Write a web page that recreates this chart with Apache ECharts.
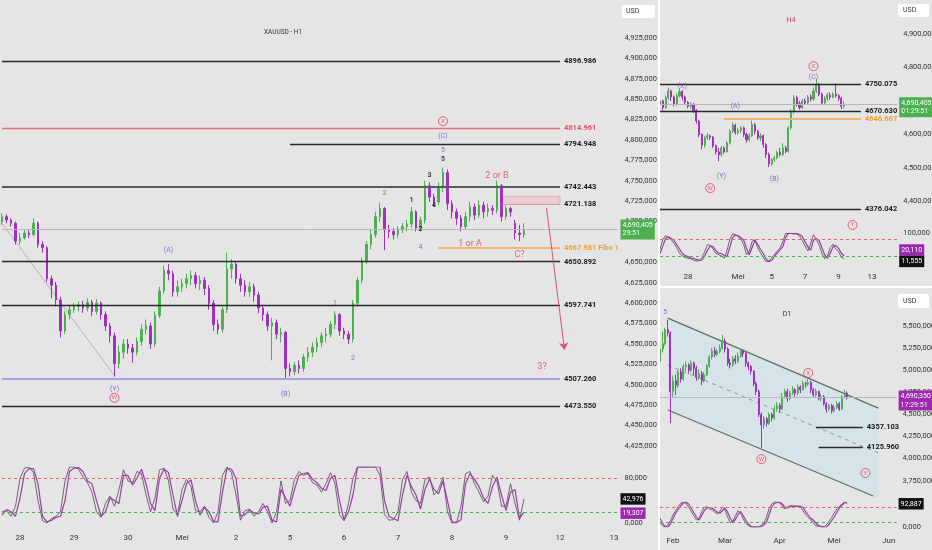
<!DOCTYPE html>
<html><head><meta charset="utf-8">
<script src="https://cdn.jsdelivr.net/npm/echarts@6/dist/echarts.min.js"></script>
<style>html,body{margin:0;padding:0;background:#e5e5e5;}#c{width:932px;height:550px;}</style>
</head><body><div id="c"></div>
<script>
// ---------- H1 (main) ----------
const h1Days = ['28','29','30','Mei','2','5','6','7','8','9','12','13'];
const h1Open = [4700,4706,4702,4698,4676,4680,4686,4684,4698,4672,
4668,4630,4622,4604,4566,4586,4592,4596,4598,4594,
4601,4590,4600,4586,4572,4560,4526,4540,4550,4545,
4540,4553,4568,4572,4550,4585,4615,4640,4636,4614,
4620,4624,4630,4634,4624,4628,4618,4600,4574,4568,
4592,4642,4648,4630,4622,4614,4620,4610,4594,4586,
4572,4576,4562,4564,4520,4516,4524,4520,4534,4540,
4546,4552,4560,4562,4574,4586,4566,4562,4556,4600,
4628,4652,4672,4684,4706,4716,4690,4688,4684,4690,
4694,4697,4712,4692,4702,4744,4730,4724,4742,4760,
4722,4712,4704,4694,4706,4718,4708,4720,4712,4716,
4714,4744,4706,4716,4698,4686,4684];
const h1Close = [4706,4702,4698,4676,4680,4686,4684,4698,4672,4668,
4630,4622,4604,4566,4586,4592,4596,4598,4594,4601,
4590,4600,4586,4572,4560,4526,4540,4550,4545,4540,
4553,4568,4572,4550,4585,4615,4640,4636,4614,4620,
4624,4630,4634,4624,4628,4618,4600,4574,4568,4592,
4642,4648,4630,4622,4614,4620,4610,4594,4586,4572,
4576,4562,4564,4520,4516,4524,4520,4534,4540,4546,
4552,4560,4562,4574,4586,4566,4562,4556,4600,4628,
4652,4672,4684,4706,4716,4690,4688,4684,4690,4694,
4697,4712,4692,4702,4744,4730,4724,4742,4760,4722,
4712,4704,4694,4706,4718,4708,4720,4712,4716,4714,
4744,4706,4716,4712,4686,4684,4690.405];
const h1Low = [4696,4698,4694,4672,4672,4678,4680,4682,4668,4662,
4626,4606,4596,4558,4562,4580,4588,4590,4588,4590,
4584,4586,4580,4566,4552,4510,4520,4532,4538,4527,
4536,4548,4562,4544,4546,4582,4612,4628,4608,4608,
4614,4618,4622,4618,4616,4610,4592,4566,4562,4564,
4588,4630,4624,4614,4608,4608,4602,4588,4578,4566,
4530,4556,4552,4506,4510,4512,4514,4516,4528,4534,
4540,4546,4552,4558,4568,4560,4556,4550,4552,4596,
4624,4648,4666,4680,4700,4665,4680,4678,4680,4686,
4688,4692,4688,4688,4698,4724,4718,4720,4736,4714,
4704,4696,4688,4690,4700,4702,4704,4704,4706,4708,
4710,4700,4702,4706,4678,4676,4680];
const h1High = [4710,4709,4704,4700,4686,4690,4690,4704,4700,4676,
4670,4634,4626,4608,4590,4598,4600,4602,4603,4606,
4604,4605,4602,4590,4576,4564,4548,4556,4556,4550,
4558,4574,4580,4576,4590,4620,4646,4648,4640,4628,
4630,4636,4640,4638,4634,4632,4622,4604,4580,4596,
4662,4654,4650,4636,4628,4626,4624,4614,4598,4590,
4582,4580,4570,4566,4526,4528,4530,4538,4546,4552,
4558,4564,4570,4578,4590,4588,4570,4566,4604,4632,
4656,4676,4690,4712,4723,4718,4696,4692,4694,4698,
4702,4718,4714,4706,4750,4748,4734,4748,4766,4764,
4726,4716,4708,4712,4724,4722,4726,4724,4722,4720,
4750,4746,4720,4718,4702,4696,4698];
const h1StochK = [20,22,12,30,80,98,100,90,40,4, 0,8,12,20,75,100,100,96,82,72,
55,20,10,35,48,30,60,95,75,72, 92,88,50,20,45,95,98,75,25,15,
60,78,65,22,20,30,10,0,20,85, 100,90,50,5,22,25,12,20,35,20,
0,20,75,35,40,78,92,85,88,72, 68,55,70,90,70,15,4,35,80,100,
100,100,100,100,85,15,5,6,20,78, 92,55,40,35,78,82,50,60,82,20,
0,0,30,88,92,70,55,38,48,85, 75,30,30,70,35,5,42.976];
const h1StochD = [14,24,20,12,45,88,97,97,70,12, 2,5,10,12,40,92,98,99,92,75,
70,40,12,20,45,40,35,85,85,68, 80,96,70,35,22,80,96,90,50,12,
40,70,77,40,14,28,20,3,2,55, 98,96,80,12,15,23,18,16,28,30,
5,2,60,45,30,60,85,88,90,78, 72,62,58,80,85,40,5,20,50,100,
100,100,100,100,100,40,12,8,4,50, 85,65,50,25,60,79,60,52,75,40,
2,1,6,70,88,78,65,45,35,65, 82,50,22,55,60,8,19.307];
// [price, fromIndex, toIndex, kind, suffix]
const h1Levels = [
  [4896.986,0,124,'black',''],[4814.961,0,124,'red',''],[4794.948,64,124,'black',''],
  [4742.443,0,124,'gray',''],[4721.138,111,124,'pink',''],[4667.981,97,124,'orange',' Fibo 1'],
  [4650.892,0,124,'black',''],[4597.741,0,124,'black',''],[4507.260,0,124,'lavender',''],
  [4473.550,0,124,'black','']];
const h1Zone = [111, 4731, 124, 4721.138];
const h1Diagonal = [[0,4698],[25,4511]];
const h1Arrow = [[121,4717],[125,4543]];
const h1Last = 4690.405, h1Timer = '29:51';
// [index, price, text, kind]
const h1Notes = [
  [98,4823,'X','ring'],[98,4804,'(C)','purple'],[98,4788,'5','blue'],[98,4777,'5','black'],
  [95,4757,'3','black'],[91,4726,'1','black'],[96,4720,'4','black'],[93,4691,'2','black'],
  [85,4735,'3','blue'],[93,4668,'4','blue'],[110,4756,'2 or B','red'],[104,4673,'1 or A','red'],
  [115,4659,'C?','red'],[37,4665,'(A)','purple'],[74,4600,'1','blue'],[78,4532,'2','blue'],
  [120,4522,'3?','red'],[25,4495,'(Y)','purple'],[25,4484,'W','ring'],[63,4489,'(B)','purple']];

// ---------- H4 ----------
const h4Shown = ['28','Mei','5','7','9','13'];
const h4Open = [4690,4700,4680,4710,4730,4712,4690,4716,4728,4712,
4696,4684,4690,4672,4640,4600,4568,4590,4596,4592,
4566,4548,4540,4560,4548,4575,4610,4628,4606,4612,
4620,4600,4584,4596,4630,4610,4590,4596,4570,4540,
4512,4525,4530,4546,4540,4560,4550,4620,4670,4710,
4692,4680,4700,4694,4712,4706,4730,4750,4720,4694,
4708,4718,4712,4720,4716,4708,4684];
const h4Close = [4700,4680,4710,4730,4712,4690,4716,4728,4712,4696,
4684,4690,4672,4640,4600,4568,4590,4596,4592,4566,
4548,4540,4560,4548,4575,4610,4628,4606,4612,4620,
4600,4584,4596,4630,4610,4590,4596,4570,4540,4512,
4525,4530,4546,4540,4560,4550,4620,4670,4710,4692,
4680,4700,4694,4712,4706,4730,4750,4720,4694,4708,
4718,4712,4720,4716,4708,4684,4690.405];
const h4Low = [4680,4672,4676,4704,4700,4684,4686,4710,4702,4688,
4678,4676,4664,4632,4592,4556,4560,4584,4584,4560,
4540,4520,4534,4542,4546,4570,4604,4600,4600,4604,
4592,4576,4578,4592,4600,4584,4580,4560,4530,4503,
4506,4518,4526,4534,4536,4544,4546,4614,4662,4684,
4674,4676,4688,4690,4698,4700,4724,4714,4688,4690,
4700,4704,4708,4710,4700,4676,4678];
const h4High = [4708,4704,4716,4740,4734,4716,4722,4738,4732,4716,
4700,4696,4694,4676,4644,4604,4596,4604,4600,4596,
4570,4560,4566,4564,4580,4615,4636,4632,4620,4626,
4624,4606,4604,4642,4634,4614,4604,4600,4574,4546,
4530,4536,4552,4560,4574,4566,4626,4676,4718,4716,
4700,4706,4708,4718,4720,4740,4766,4754,4726,4714,
4724,4726,4726,4752,4720,4712,4700];
const h4StochK = [45,78,92,85,78,65,50,30,20,15, 12,10,6,2,4,15,35,60,58,45,
30,25,20,12,40,78,98,96,88,80, 60,25,35,72,78,50,32,15,0,2,
14,25,38,48,70,100,100,100,100,98, 90,75,55,38,65,95,78,60,30,10,
20,50,62,45,35,15,11.555];
const h4StochD = [29,55,82,88,82,76,60,45,29,22, 18,14,12,8,5,6,20,40,55,53,
40,30,29,22,18,50,85,94,92,85, 76,48,24,50,76,62,44,29,10,0,
5,18,30,42,53,85,100,100,98,100, 96,88,70,52,41,76,82,76,50,25,
12,30,53,58,47,30,20.110];
const h4Levels = [[4750.075,0,72,'black',''],[4670.630,0,72,'black',''],[4646.667,23,72,'orange',''],[4376.042,0,72,'black','']];
const h4Last = 4690.405, h4Timer = '01:29:51';
const h4Notes = [[8,4745,'(X)','purple'],[27,4685,'(A)','purple'],[22,4476,'(Y)','purple'],[18,4440,'W','ring'],
  [41,4467,'(B)','purple'],[55,4804,'X','ring'],[55,4772,'(C)','purple'],[69,4330,'Y','ring']];

// ---------- D1 ----------
const d1Months = ['Feb','Mar','Apr','Mei','Jun'];
const d1MonthLen = [20,21,21,21,4];
const d1Open = [5100,5240,5300,5460,5420,4760,4880,4830,4980,4900,
5040,5060,5000,5080,5020,4920,4960,4880,4950,5050,
5150,5220,5180,5210,5250,5330,5240,5080,5060,5130,
5100,5160,5220,5190,5080,5040,4990,4850,4760,4500,
4380,4450,4400,4500,4460,4560,4600,4560,4700,4760,
4680,4740,4780,4740,4810,4780,4850,4840,4860,4780,
4720,4760,4680,4700,4620,4560,4600,4540,4580,4620,
4560,4700,4740];
const d1Close = [5240,5300,5460,5420,4760,4880,4830,4980,4900,5040,
5060,5000,5080,5020,4920,4960,4880,4950,5050,5150,
5220,5180,5210,5250,5330,5240,5080,5060,5130,5100,
5160,5220,5190,5080,5040,4990,4850,4760,4500,4380,
4450,4400,4500,4460,4560,4600,4560,4700,4760,4680,
4740,4780,4740,4810,4780,4850,4840,4860,4780,4720,
4760,4680,4700,4620,4560,4600,4540,4580,4620,4560,
4700,4740,4690.35];
const d1Low = [5060,5200,5280,5380,4400,4700,4720,4800,4860,4880,
4990,4960,4980,4940,4880,4890,4830,4860,4930,5030,
5120,5150,5160,5190,5230,5200,5050,5020,5040,5070,
5080,5140,5150,5040,5000,4950,4820,4720,4470,4120,
4340,4360,4380,4420,4440,4530,4520,4550,4680,4640,
4660,4720,4700,4720,4740,4770,4800,4820,4740,4700,
4700,4660,4650,4600,4520,4540,4510,4520,4560,4540,
4550,4690,4670];
const d1High = [5280,5440,5480,5570,5440,4940,4950,5000,5020,5070,
5100,5080,5110,5100,5050,5010,4990,4980,5070,5170,
5250,5260,5240,5290,5400,5360,5260,5130,5160,5170,
5200,5250,5240,5210,5100,5060,5000,4870,4780,4520,
4480,4470,4520,4520,4600,4640,4630,4740,4790,4790,
4770,4820,4800,4840,4830,4880,4870,4900,4880,4800,
4790,4770,4730,4720,4640,4620,4620,4610,4650,4640,
4720,4780,4760];
const d1StochK = [20,5,0,8,25,48,65,82,95,100, 95,80,62,45,28,35,60,78,82,72,
70,60,52,62,80,70,40,18,22,45, 66,55,32,15,5,0,0,0,0,8,
18,40,75,92,100,100,96,85,72,80, 86,85,82,84,80,65,50,38,28,15,
5,2,0,0,8,22,38,55,72,82, 92,100,92.887];
const d1StochD = [34,15,2,0,12,34,55,70,85,96, 100,92,75,58,40,27,45,65,76,78,
76,68,60,55,65,76,60,35,20,30, 50,62,45,27,12,3,0,0,0,2,
10,20,50,80,94,98,100,92,80,76, 80,83,84,83,83,78,62,48,35,27,
15,6,3,1,0,10,25,40,58,76, 88,97,100];
const d1Levels = [[4357.103,60,78,'black',''],[4125.960,61,78,'black','']];
const d1ChannelUpper = [[3,5590],[84,4572]];
const d1ChannelMid = [[3,5059],[84,4063]];
const d1ChannelLower = [[3,4550],[82,3577]];
const d1ChannelFill = [[3,5590],[84,4572],[84,3553],[3,4550]];
const d1Last = 4690.35, d1Timer = '17:29:51';
const d1Notes = [[2,5660,'5','blue'],[57,4968,'X','ring'],[39,3995,'W','ring'],[79,3837,'Y','ring']];

// ---------- helpers ----------
const FONT = 'Roboto, "Liberation Sans", sans-serif';
const GREEN = '#4caf50', PURPLE = '#a22fc0', BOXPURPLE = '#9c27b0';
function buildCats(lead, names, lens, total){
  const a = []; for (let i=0;i<lead;i++) a.push('');
  names.forEach((n,k)=>{ a.push(n); for (let j=1;j<lens[k];j++) a.push(''); });
  while (a.length < total) a.push('');
  return a.slice(0,total);
}
const h1Cats = buildCats(4, h1Days, h1Days.map(()=>12), 138);
const h4Cats = buildCats(10, h1Days, h1Days.map(()=>6), 86);
const d1Cats = buildCats(5, d1Months, d1MonthLen, 92);
function priceFmt(v){ const t=Math.floor(v/1000), r=Math.round(v-t*1000); return t+','+String(r).padStart(3,'0')+',000'; }
function fmtPrice(v){ const [a,b] = v.toFixed(3).split('.'); return a.slice(0,1)+','+a.slice(1)+','+b; }
function fmtStoch(v){ return v.toFixed(3).replace('.',','); }
const LEVEL_STYLE = {
  black:{line:'#2a2a2a',w:1.4,text:'#1a1a1a'}, gray:{line:'#5a5a5a',w:2,text:'#1a1a1a'},
  red:{line:'#e2707f',w:1.4,text:'#e2506a'}, orange:{line:'#f3b565',w:2,text:'#f0a030'},
  lavender:{line:'#a99fe2',w:2,text:'#1a1a1a'}, pink:{line:'rgba(226,140,150,0.7)',w:1,text:'#1a1a1a'}};
function levelLines(levels){
  return levels.map(([v,a,b,kind,suffix])=>{ const s=LEVEL_STYLE[kind];
    return [{coord:[a,v], lineStyle:{color:s.line,width:s.w,type:'solid'},
      label:{show:true,position:'end',distance:4,formatter:v.toFixed(3)+suffix,color:s.text,fontSize:7.5,fontWeight:'bold',fontFamily:FONT}},
      {coord:[b,v]}]; });
}
function badge(v, text, bg, showLine, dy){
  return {yAxis:v, lineStyle: showLine ? {color:'#b8b8b8',width:1,type:'solid'} : {color:'rgba(0,0,0,0)',width:0},
    label:{show:true,position:'end',distance:2,formatter:text,backgroundColor:bg,color:'#fff',fontSize:7,lineHeight:8.5,
      padding:[2,2,1,2],fontFamily:FONT,offset:[0,dy||0]}};
}
const NOTE_STYLE = {ring:{c:'#e53950',s:6,w:'normal'}, red:{c:'#e53950',s:9,w:'normal'}, blue:{c:'#5b57c9',s:7,w:'normal'},
  purple:{c:'#5b57c9',s:7,w:'normal'}, black:{c:'#111',s:7,w:'bold'}};
function noteSeries(notes, xi){
  return {type:'scatter', xAxisIndex:xi, yAxisIndex:xi, z:6, silent:true, clip:false,
    data: notes.map(([i,v,t,k])=>{ const s=NOTE_STYLE[k]; const ring = k==='ring';
      return {value:[i,v], symbol:'circle', symbolSize: ring?9:1,
        itemStyle: ring ? {color:'rgba(0,0,0,0)',borderColor:'#e53950',borderWidth:1} : {color:'rgba(0,0,0,0)'},
        label:{show:true,position:'inside',formatter:t,color:s.c,fontSize:s.s,fontWeight:s.w,fontFamily:FONT}}; })};
}
function candles(o,c,l,h){ return o.map((v,i)=>[v,c[i],l[i],h[i]]); }
const candleStyle = {color:GREEN,color0:PURPLE,borderColor:GREEN,borderColor0:PURPLE,borderWidth:1};
const lbl = {color:'#333',fontSize:7.5,fontFamily:FONT};
function xCat(g, cats, show, margin, shown){
  return {type:'category',gridIndex:g,data:cats,boundaryGap:false,axisLine:{show:false},axisTick:{show:false},splitLine:{show:false},
    axisLabel:{show:show,interval:0,margin:margin||8,fontSize:8,color:'#333',fontFamily:FONT,
      formatter:(v)=> shown ? (shown.includes(v)?v:'') : v}};
}
function yVal(g, min, max, step, fmt, hide){
  return {type:'value',gridIndex:g,position:'right',min:min,max:max,interval:step,
    axisLine:{show:false},axisTick:{show:false},splitLine:{show:false},
    axisLabel:Object.assign({margin:6,formatter:(v)=>{ if (Math.abs(v/step-Math.round(v/step))>1e-6) return ''; if (hide.includes(v)) return ''; return fmt(v);}}, lbl)};
}
const stochLine = (data, xi, color, w, extra)=>Object.assign({type:'line',xAxisIndex:xi,yAxisIndex:xi,data:data,showSymbol:false,symbol:'none',
  lineStyle:{color:color,width:w},z:3,silent:true}, extra||{});
const dash = (v,color)=>({yAxis:v,lineStyle:{color:color,width:1,type:[3,3]},label:{show:false}});
const lastOf = (a)=>a[a.length-1];

const option = {
  animation:false, backgroundColor:'#e5e5e5', textStyle:{fontFamily:FONT},
  grid:[
    {left:2,top:1.28,width:616.5,height:465.1,outerBoundsMode:'none',containLabel:false},
    {left:2,top:467,width:616.5,height:56,outerBoundsMode:'none',containLabel:false},
    {left:660,top:17.25,width:237.2,height:217.75,outerBoundsMode:'none',containLabel:false},
    {left:660,top:233.4,width:237.2,height:28.3,outerBoundsMode:'none',containLabel:false},
    {left:660,top:303.9,width:236.6,height:198.9,outerBoundsMode:'none',containLabel:false},
    {left:660,top:502,width:236.6,height:25,outerBoundsMode:'none',containLabel:false}],
  xAxis:[xCat(0,h1Cats,false), xCat(1,h1Cats,true,11), xCat(2,h4Cats,false), xCat(3,h4Cats,true,11,h4Shown),
         xCat(4,d1Cats,false), xCat(5,d1Cats,true,10)],
  yAxis:[yVal(0,4400,4970,25,priceFmt,[4400,4675,4950]), yVal(1,0,100,80,(v)=>v+',000',[100]),
         yVal(2,4300,4950,100,priceFmt,[4300,4950]), yVal(3,0,100,100,(v)=>v+',000',[0]),
         yVal(4,3500,5750,250,priceFmt,[3500,5750]), yVal(5,0,100,100,(v)=>v+',000',[100])],
  series:[
    {type:'candlestick',xAxisIndex:0,yAxisIndex:0,data:candles(h1Open,h1Close,h1Low,h1High),barWidth:2,itemStyle:candleStyle,z:3,silent:true,
     markLine:{silent:true,symbol:['none','none'],animation:false,
       data:[...levelLines(h1Levels), badge(h1Last, fmtPrice(h1Last)+'\n'+h1Timer, GREEN, true)]},
     markArea:{silent:true,data:[[{coord:[h1Zone[0],h1Zone[1]],itemStyle:{color:'rgba(238,160,170,0.32)',borderColor:'rgba(226,140,150,0.55)',borderWidth:1}},{coord:[h1Zone[2],h1Zone[3]]}]]}},
    {type:'line',xAxisIndex:0,yAxisIndex:0,data:h1Diagonal,showSymbol:false,symbol:'none',lineStyle:{color:'#a8a8a8',width:0.8},silent:true,
     markLine:{silent:true,symbol:['none','arrow'],symbolSize:7,label:{show:false},
       data:[[{coord:h1Arrow[0],lineStyle:{color:'#e25068',width:1,type:'solid'}},{coord:h1Arrow[1]}]]}},
    noteSeries(h1Notes,0),
    stochLine(h1StochK,1,'#4a4a4a',0.8),
    stochLine(h1StochD,1,'#9a3aa8',1.2,{markLine:{silent:true,symbol:['none','none'],
      data:[dash(80,'#e06a72'),dash(20,'#4caf50'),badge(lastOf(h1StochK),fmtStoch(lastOf(h1StochK)),'#111',false),
            badge(lastOf(h1StochD),fmtStoch(lastOf(h1StochD)),BOXPURPLE,false,1)]}}),
    {type:'candlestick',xAxisIndex:2,yAxisIndex:2,data:candles(h4Open,h4Close,h4Low,h4High),barWidth:1.6,itemStyle:candleStyle,z:3,silent:true,
     markLine:{silent:true,symbol:['none','none'],
       data:[...levelLines(h4Levels), badge(h4Last, fmtPrice(h4Last)+'\n'+h4Timer, GREEN, true, 3)]}},
    noteSeries(h4Notes,2),
    stochLine(h4StochK,3,'#4a4a4a',0.8),
    stochLine(h4StochD,3,'#9a3aa8',1.2,{markLine:{silent:true,symbol:['none','none'],
      data:[dash(80,'#e06a72'),dash(20,'#4caf50'),badge(lastOf(h4StochD),fmtStoch(lastOf(h4StochD)),BOXPURPLE,false,-6),
            badge(lastOf(h4StochK),fmtStoch(lastOf(h4StochK)),'#111',false,3)]}}),
    {type:'custom',xAxisIndex:4,yAxisIndex:4,data:[0],silent:true,z:1,clip:false,
     renderItem:(params,api)=>({type:'polygon',shape:{points:d1ChannelFill.map(p=>api.coord(p))},style:{fill:'rgba(200,226,238,0.5)'}})},
    {type:'line',xAxisIndex:4,yAxisIndex:4,data:d1ChannelUpper,showSymbol:false,symbol:'none',lineStyle:{color:'#5b7465',width:1.3},silent:true,z:2},
    {type:'line',xAxisIndex:4,yAxisIndex:4,data:d1ChannelLower,showSymbol:false,symbol:'none',lineStyle:{color:'#5b7465',width:1.3},silent:true,z:2},
    {type:'line',xAxisIndex:4,yAxisIndex:4,data:d1ChannelMid,showSymbol:false,symbol:'none',lineStyle:{color:'#8d9a97',width:1,type:[4,4]},silent:true,z:2},
    {type:'candlestick',xAxisIndex:4,yAxisIndex:4,data:candles(d1Open,d1Close,d1Low,d1High),barWidth:1.6,itemStyle:candleStyle,z:3,silent:true,
     markLine:{silent:true,symbol:['none','none'],
       data:[...levelLines(d1Levels), badge(d1Last, fmtPrice(d1Last)+'\n'+d1Timer, BOXPURPLE, true, 3)]}},
    noteSeries(d1Notes,4),
    stochLine(d1StochK,5,'#4a4a4a',0.8),
    stochLine(d1StochD,5,'#9a3aa8',1.2,{markLine:{silent:true,symbol:['none','none'],
      data:[dash(80,'#e06a72'),dash(20,'#4caf50'),badge(lastOf(d1StochK),fmtStoch(lastOf(d1StochK)),'#111',false)]}})
  ],
  graphic:[
    {type:'rect',shape:{x:658,y:0,width:2,height:550},style:{fill:'#ffffff'},z:100},
    {type:'rect',shape:{x:660,y:286,width:272,height:2},style:{fill:'#ffffff'},z:100},
    {type:'group',x:622,y:5,z:100,children:[{type:'rect',shape:{x:0,y:0,width:33,height:13,r:2},style:{fill:'#fff'}},
      {type:'text',x:4,y:6.5,style:{text:'USD',fill:'#333',font:'7px '+FONT,verticalAlign:'middle'}}]},
    {type:'group',x:898,y:4,z:100,children:[{type:'rect',shape:{x:0,y:0,width:31,height:13,r:2},style:{fill:'#fff'}},
      {type:'text',x:5,y:6.5,style:{text:'USD',fill:'#333',font:'7px '+FONT,verticalAlign:'middle'}}]},
    {type:'group',x:898,y:294,z:100,children:[{type:'rect',shape:{x:0,y:0,width:31,height:14,r:2},style:{fill:'#fff'}},
      {type:'text',x:5,y:7,style:{text:'USD',fill:'#333',font:'7px '+FONT,verticalAlign:'middle'}}]},
    {type:'text',x:283,y:32,z:100,style:{text:'XAUUSD - H1',fill:'#333',font:'6.5px '+FONT,align:'center',verticalAlign:'middle'}},
    {type:'text',x:791,y:20,z:100,style:{text:'H4',fill:'#e53950',font:'7px '+FONT,align:'center',verticalAlign:'middle'}},
    {type:'text',x:787,y:314,z:100,style:{text:'D1',fill:'#333',font:'7px '+FONT,align:'center',verticalAlign:'middle'}}
  ]
};
const chart = echarts.init(document.getElementById('c'));
chart.setOption(option);
</script></body></html>
